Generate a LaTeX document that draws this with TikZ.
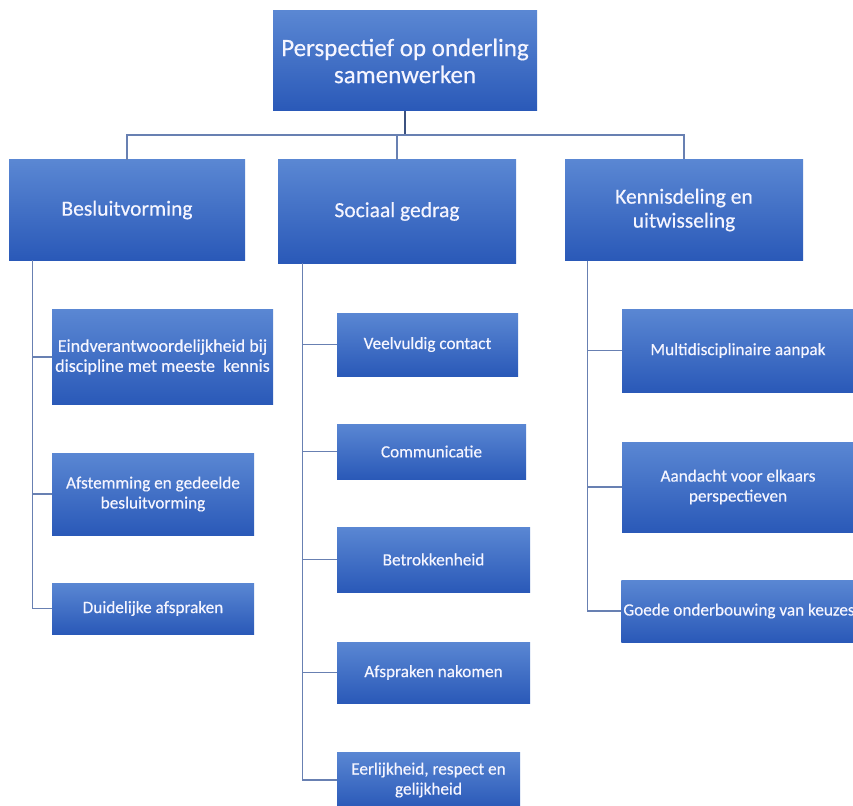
\documentclass[tikz,border=0pt]{standalone}
\usepackage{fontspec}
\setmainfont{Carlito}
\definecolor{boxtop}{RGB}{90,135,211}
\definecolor{boxbot}{RGB}{42,89,184}
\definecolor{linkc}{RGB}{104,128,178}
\definecolor{rootlink}{RGB}{60,82,128}
\newcommand{\boxfont}[2]{\fontsize{#1}{#2}\selectfont\addfontfeature{FakeBold=0.35}}
\begin{document}
\begin{tikzpicture}[x=1pt,y=-1pt,
  card/.style={rectangle, inner sep=2pt, top color=boxtop, bottom color=boxbot,
    draw=none, text=white!96!blue, align=center},
  titlebox/.style={card, font=\boxfont{25}{27}},
  headbox/.style={card, font=\boxfont{21.5}{24}},
  itembox/.style={card, font=\boxfont{17.2}{20}},
  link/.style={draw=linkc, line width=1.2pt}]
\useasboundingbox (0,0) rectangle (853,805);
\clip (0,0) rectangle (853,805);

% root
\node[titlebox, minimum width=264pt, minimum height=100pt] (top) at (405,61)
  {Perspectief op onderling\\samenwerken};

% main themes
\node[headbox, minimum width=236pt, minimum height=100pt] (b1) at (127,210) {Besluitvorming};
\node[headbox, minimum width=238pt, minimum height=103pt] (b2) at (397,211.5) {Sociaal gedrag};
\node[headbox, minimum width=238pt, minimum height=101pt] (b3) at (684,210) {Kennisdeling en\\uitwisseling};

% Besluitvorming
\node[itembox, font=\boxfont{18}{20}, minimum width=221pt, minimum height=95pt] (l1) at (162.5,357)
  {Eindverantwoordelijkheid bij\\discipline met meeste~ kennis};
\node[itembox, minimum width=202pt, minimum height=82pt] (l2) at (153,494)
  {Afstemming en gedeelde\\besluitvorming};
\node[itembox, minimum width=202pt, minimum height=51pt] (l3) at (153,608.5)
  {Duidelijke afspraken};

% Sociaal gedrag
\node[itembox, minimum width=181pt, minimum height=63pt] (m1) at (427.5,344.5) {Veelvuldig contact};
\node[itembox, minimum width=189pt, minimum height=55pt] (m2) at (431.5,451.5) {Communicatie};
\node[itembox, minimum width=193pt, minimum height=65pt] (m3) at (433.5,559.5) {Betrokkenheid};
\node[itembox, minimum width=193pt, minimum height=61pt] (m4) at (433.5,672.5) {Afspraken nakomen};
\node[itembox, minimum width=183pt, minimum height=56pt] (m5) at (428.5,780)
  {Eerlijkheid, respect en\\gelijkheid};

% Kennisdeling en uitwisseling
\node[itembox, minimum width=232pt, minimum height=83pt] (r1) at (738,350.5) {Multidisciplinaire aanpak};
\node[itembox, minimum width=232pt, minimum height=90pt] (r2) at (738,487)
  {Aandacht voor elkaars\\perspectieven};
\node[itembox, minimum width=232pt, minimum height=62pt] (r3) at (739,611)
  {Goede onderbouwing van keuzes};

% root to themes
\coordinate (bus) at (405,135);
\draw[link, draw=rootlink] (top.south) -- (bus);
\draw[link] (b1.north) |- (bus) -| (b3.north);
\draw[link] (bus -| b2.north) -- (b2.north);

% themes to items
\foreach \c in {l1,l2,l3}
  \draw[link] (b1.south west) ++(24,0) |- (\c.west);
\foreach \c in {m1,m2,m3,m4,m5}
  \draw[link] (b2.south west) ++(25,0) |- (\c.west);
\foreach \c in {r1,r2,r3}
  \draw[link] (b3.south west) ++(23,0) |- (\c.west);
\end{tikzpicture}
\end{document}
